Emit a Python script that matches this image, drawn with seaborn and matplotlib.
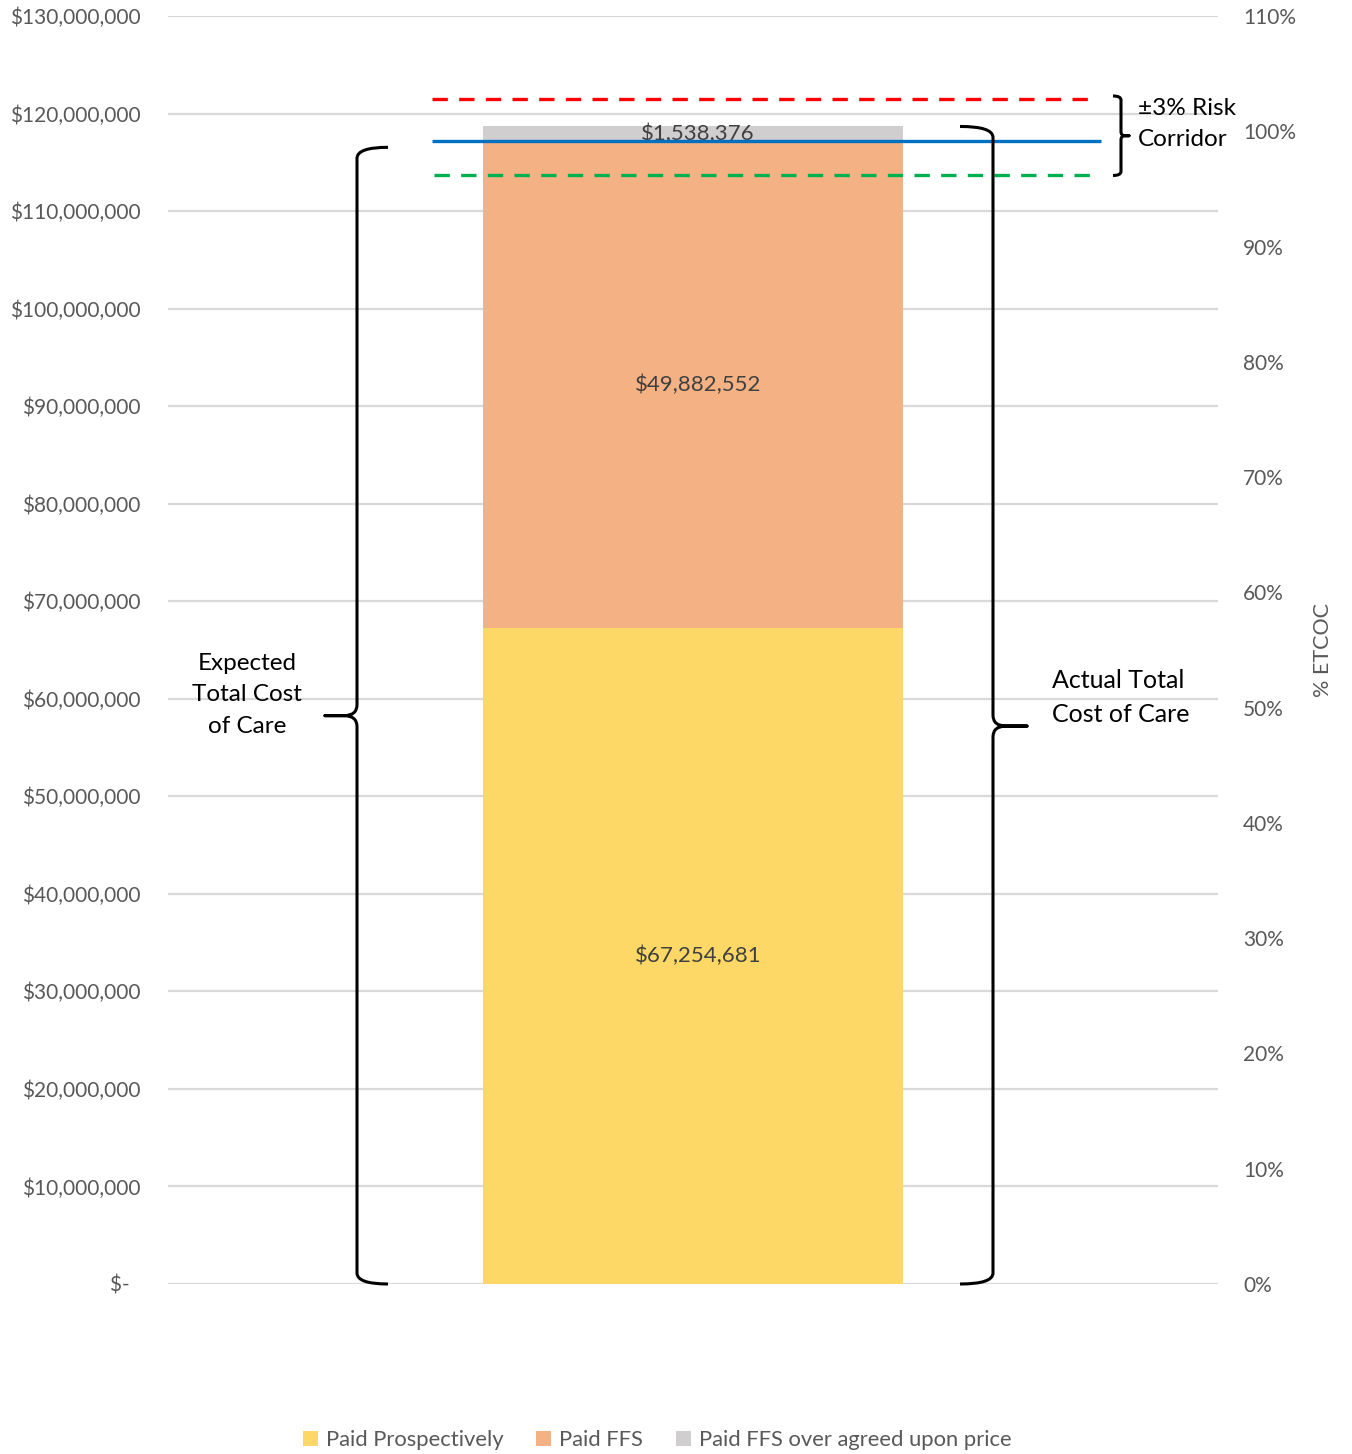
import matplotlib
matplotlib.use("Agg")
import matplotlib.pyplot as plt
from matplotlib.path import Path
from matplotlib.patches import PathPatch, Patch
from matplotlib.ticker import FuncFormatter
import seaborn as sns

# ---- data -------------------------------------------------------------
categories = ["Actual Total Cost of Care"]
paid_prospectively = [67_254_681]
paid_ffs = [49_882_552]
paid_ffs_over = [1_538_376]

expected_tcoc = 117_137_233          # ETCOC (100%)
corridor_upper = 121_500_000         # upper edge of the risk corridor
corridor_lower = 113_650_000         # lower edge of the risk corridor

left_ticks = list(range(0, 130_000_001, 10_000_000))
right_ticks = [i / 100 for i in range(0, 111, 10)]

series_names = ["Paid Prospectively", "Paid FFS", "Paid FFS over agreed upon price"]
series_colors = ["#FDD866", "#F4B183", "#D0CECE"]

# ---- style ------------------------------------------------------------
sns.set_style("white")
plt.rcParams["font.family"] = ["Lato", "DejaVu Sans"]
TICK_GREY = "#595959"

W, H = 1352, 1454
fig = plt.figure(figsize=(W / 100, H / 100), dpi=100)
ax = fig.add_axes([168 / W, 1 - 1284 / H, (1218 - 168) / W, (1284 - 16) / H])

# ---- stacked bar ------------------------------------------------------
bottoms = [0, paid_prospectively[0], paid_prospectively[0] + paid_ffs[0]]
for vals, bot, col, name in zip([paid_prospectively, paid_ffs, paid_ffs_over],
                                bottoms, series_colors, series_names):
    sns.barplot(x=categories, y=vals, bottom=[bot], color=col, width=0.4,
                saturation=1, ax=ax, label=name, linewidth=0, zorder=2)
    ax.text(0.005, bot + vals[0] / 2, f"${vals[0]:,}", ha="center", va="center",
            fontsize=16, color="#404040", zorder=3)

ax.set_xlim(-0.5, 0.5)
ax.set_ylim(0, 130_000_000)
ax.set_xticks([])
ax.set_xlabel("")
ax.set_ylabel("")
ax.set_yticks(left_ticks)
ax.yaxis.set_major_formatter(FuncFormatter(lambda v, p: "$-  " if v == 0 else f"${v:,.0f}"))
ax.tick_params(axis="y", length=0, pad=20, labelsize=15, labelcolor=TICK_GREY)
ax.yaxis.grid(True, color="#D9D9D9", linewidth=1.6, zorder=0)
ax.set_axisbelow(True)
for s in ax.spines.values():
    s.set_visible(False)

# ---- corridor lines ---------------------------------------------------
ax.hlines(corridor_upper, -0.249, 0.383, colors="#FF0000", linewidth=2.4,
          linestyles=(0, (4.6, 3.4)), zorder=4)
ax.hlines(expected_tcoc, -0.249, 0.389, colors="#0070C0", linewidth=2.4, zorder=4)
ax.hlines(corridor_lower, -0.247, 0.383, colors="#00B050", linewidth=2.4,
          linestyles=(0, (4.6, 3.4)), zorder=4)

# ---- right axis (% of ETCOC) -----------------------------------------
ax2 = ax.twinx()
ax2.set_ylim(0, 1.10)
ax2.set_yticks(right_ticks)
ax2.yaxis.set_major_formatter(FuncFormatter(lambda v, p: f"{v:.0%}"))
ax2.tick_params(axis="y", length=0, pad=18, labelsize=15, labelcolor=TICK_GREY)
ax2.set_ylabel("% ETCOC", fontsize=15.5, color=TICK_GREY, labelpad=12)
for s in ax2.spines.values():
    s.set_visible(False)
ax2.grid(False)

# ---- curly braces -----------------------------------------------------
ax_w_px = (1218 - 168)
ax_h_px = (1284 - 16)
sx = 1.0 / ax_w_px                     # data units per pixel (x)
sy = 130_000_000 / ax_h_px             # data units per pixel (y)


def brace(x_spine, y0, y1, mid_frac, tip_px, point_px, r_px, flat_px, opens_right):
    s = 1 if opens_right else -1
    ymid = y0 + (y1 - y0) * mid_frac
    r = r_px * sy
    tip = s * tip_px * sx
    pnt = -s * point_px * sx
    cr = -s * flat_px * sx
    x = x_spine
    verts = [
        (x + tip, y1), (x, y1), (x, y1 - r),
        (x, ymid + r), (x, ymid), (x + cr, ymid),
        (x + pnt, ymid),
        (x + cr, ymid), (x, ymid), (x, ymid - r),
        (x, y0 + r), (x, y0), (x + tip, y0),
    ]
    codes = [Path.MOVETO, Path.CURVE3, Path.CURVE3,
             Path.LINETO, Path.CURVE3, Path.CURVE3,
             Path.LINETO,
             Path.LINETO, Path.CURVE3, Path.CURVE3,
             Path.LINETO, Path.CURVE3, Path.CURVE3]
    ax.add_patch(PathPatch(Path(verts, codes), fill=False, edgecolor="black",
                           linewidth=2.2, clip_on=False, zorder=5,
                           capstyle="butt", joinstyle="round"))


total_actual = paid_prospectively[0] + paid_ffs[0] + paid_ffs_over[0]
brace((357 - 693) / ax_w_px, 0, expected_tcoc - 600_000, 0.5, 31, 32, 11, 13, True)
brace((993 - 693) / ax_w_px, 0, total_actual, 0.482, 33, 34, 11, 13, False)
brace((1121 - 693) / ax_w_px, corridor_lower, corridor_upper + 300_000, 0.5, 8, 8, 4, 4, False)

# ---- annotations ------------------------------------------------------
ax.text((247 - 693) / ax_w_px, 60_400_000, "Expected\nTotal Cost\nof Care",
        ha="center", va="center", fontsize=17.5, color="black",
        linespacing=1.6, clip_on=False, zorder=5)
ax.text((1052 - 693) / ax_w_px, 60_100_000, "Actual Total\nCost of Care",
        ha="left", va="center", fontsize=18, color="black",
        linespacing=1.6, clip_on=False, zorder=5)
ax.text((1138 - 693) / ax_w_px, 118_950_000, "±3% Risk\nCorridor",
        ha="left", va="center", fontsize=17.5, color="black",
        linespacing=1.6, clip_on=False, zorder=5)

# ---- legend -----------------------------------------------------------
leg = ax.get_legend()
if leg is not None:
    leg.remove()
handles = [Patch(facecolor=c, edgecolor="none") for c in series_colors]
fig.legend(handles, series_names, loc="lower center", bbox_to_anchor=(0.486, -0.011),
           ncol=3, frameon=False, fontsize=15.8, labelcolor=TICK_GREY,
           handlelength=0.7, handleheight=0.7, handletextpad=0.35,
           columnspacing=1.5)

fig.savefig("out.png", dpi=100)
